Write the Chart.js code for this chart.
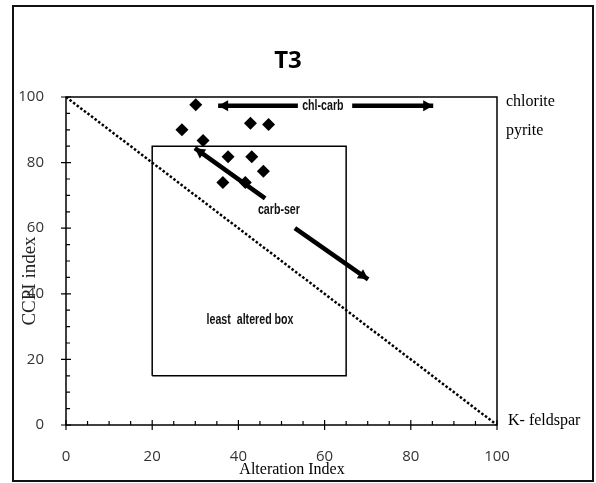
<!DOCTYPE html>
<html>
<head>
<meta charset="utf-8">
<script src="https://cdn.jsdelivr.net/npm/chart.js@4/dist/chart.umd.min.js"></script>
<style>
  html, body { margin: 0; padding: 0; background: #fff; }
  #chart { display: block; }
</style>
</head>
<body>
<canvas id="chart" width="596" height="483"></canvas>
<script>
// sample points (Alteration Index vs CCPI)
const altIndex = [30.1, 26.9, 31.8, 42.8, 47.0, 37.6, 43.1, 45.8, 36.4, 41.6];
const ccpi     = [97.6, 90.0, 86.7, 92.0, 91.6, 81.8, 81.8, 77.4, 73.9, 73.9];

// least altered box and the diagonal reference line
const boxX = [20, 20, 65, 65, 20];
const boxY = [15, 85, 85, 15, 15];
const diagX = [0, 100];
const diagY = [100, 0];

// trend arrows
const chlCarbLeftX  = [35.3, 53.8];
const chlCarbLeftY  = [97.3, 97.3];
const chlCarbRightX = [66.4, 85.2];
const chlCarbRightY = [97.3, 97.3];
const carbSerAX = [29.9, 46.2];
const carbSerAY = [84.4, 69.1];
const carbSerBX = [53.1, 70.1];
const carbSerBY = [60.0, 44.4];

// ticks
const majorTicks = [0, 20, 40, 60, 80, 100];
const minorTicks = [5, 10, 15, 25, 30, 35, 45, 50, 55, 65, 70, 75, 85, 90, 95];

const pts = (xs, ys) => xs.map((x, i) => ({ x: x, y: ys[i] }));

function lineSet(xs, ys, width, dash) {
  return {
    type: 'line',
    data: pts(xs, ys),
    borderColor: '#000',
    borderWidth: width,
    borderDash: dash || [],
    borderCapStyle: 'butt',
    pointRadius: 0,
    fill: false,
    tension: 0
  };
}

const serif = '"Liberation Serif", "Times New Roman", serif';

// condensed label text (squeezed sans)
function narrowText(ctx, txt, x, y) {
  ctx.save();
  ctx.translate(x, y);
  ctx.scale(0.76, 1);
  ctx.font = 'bold 14px "Liberation Sans", Arial, sans-serif';
  ctx.fillStyle = '#111';
  ctx.textAlign = 'center';
  ctx.textBaseline = 'middle';
  ctx.fillText(txt, 0, 0);
  ctx.restore();
}

const decor = {
  id: 'decor',
  afterDatasetsDraw(chart) {
    const ctx = chart.ctx;
    const xs = chart.scales.x, ys = chart.scales.y;
    const a = chart.chartArea;
    const px = v => xs.getPixelForValue(v);
    const py = v => ys.getPixelForValue(v);
    ctx.save();

    // figure frame
    ctx.strokeStyle = '#111';
    ctx.lineWidth = 2;
    ctx.strokeRect(13, 6, 580, 475);

    // plot box
    ctx.lineWidth = 1.5;
    ctx.strokeStyle = '#000';
    ctx.strokeRect(a.left, a.top, a.right - a.left, a.bottom - a.top);

    // ticks
    ctx.lineWidth = 1.2;
    ctx.beginPath();
    majorTicks.forEach(v => {
      ctx.moveTo(px(v), a.bottom - 5); ctx.lineTo(px(v), a.bottom + 5);
      ctx.moveTo(a.left - 5, py(v)); ctx.lineTo(a.left + 5, py(v));
    });
    minorTicks.forEach(v => {
      ctx.moveTo(px(v), a.bottom); ctx.lineTo(px(v), a.bottom - 4);
      ctx.moveTo(a.left, py(v)); ctx.lineTo(a.left + 4, py(v));
    });
    ctx.stroke();

    // arrow heads
    function head(x0, y0, x1, y1) {
      const X0 = px(x0), Y0 = py(y0), X1 = px(x1), Y1 = py(y1);
      const ang = Math.atan2(Y1 - Y0, X1 - X0);
      const L = 10, W = 5.5;
      ctx.beginPath();
      ctx.moveTo(X1, Y1);
      ctx.lineTo(X1 - L * Math.cos(ang) + W * Math.sin(ang), Y1 - L * Math.sin(ang) - W * Math.cos(ang));
      ctx.lineTo(X1 - L * Math.cos(ang) - W * Math.sin(ang), Y1 - L * Math.sin(ang) + W * Math.cos(ang));
      ctx.closePath();
      ctx.fillStyle = '#000';
      ctx.fill();
    }
    head(chlCarbLeftX[1], chlCarbLeftY[1], chlCarbLeftX[0], chlCarbLeftY[0]);
    head(chlCarbRightX[0], chlCarbRightY[0], chlCarbRightX[1], chlCarbRightY[1]);
    head(carbSerAX[1], carbSerAY[1], carbSerAX[0], carbSerAY[0]);
    head(carbSerBX[0], carbSerBY[0], carbSerBX[1], carbSerBY[1]);

    // texts
    ctx.fillStyle = '#000';
    ctx.textAlign = 'center';
    ctx.textBaseline = 'middle';
    ctx.font = 'bold 24px "Open Sans", sans-serif';
    ctx.fillText('T3', 288, 61);

    narrowText(ctx, 'chl-carb', px(59.6), py(97.3));
    narrowText(ctx, 'carb-ser', px(49.4), py(65.5));
    narrowText(ctx, 'least  altered box', px(42.7), py(32.0));

    ctx.fillStyle = '#000';
    ctx.font = '16px ' + serif;
    ctx.fillText('Alteration Index', 292, 470);
    ctx.textAlign = 'left';
    ctx.fillText('chlorite', 506, 102);
    ctx.fillText('pyrite', 506, 131);
    ctx.fillText('K- feldspar', 508, 421);

    ctx.translate(30, 281);
    ctx.rotate(-Math.PI / 2);
    ctx.textAlign = 'center';
    ctx.font = '19px ' + serif;
    ctx.fillStyle = '#222';
    ctx.fillText('CCPI index', 0, 0);
    ctx.restore();
  }
};

new Chart(document.getElementById('chart').getContext('2d'), {
  type: 'scatter',
  data: {
    datasets: [
      {
        data: pts(altIndex, ccpi),
        pointStyle: 'rectRot',
        pointRadius: 6.5,
        backgroundColor: '#000',
        borderColor: '#000',
        borderWidth: 0
      },
      lineSet(diagX, diagY, 2.5, [2.5, 2]),
      lineSet(boxX, boxY, 1.5),
      lineSet(chlCarbLeftX, chlCarbLeftY, 4.5),
      lineSet(chlCarbRightX, chlCarbRightY, 4.5),
      lineSet(carbSerAX, carbSerAY, 4.5),
      lineSet(carbSerBX, carbSerBY, 4.5)
    ]
  },
  options: {
    responsive: false,
    devicePixelRatio: 1,
    animation: false,
    layout: { padding: { top: 97, right: 99, left: 0, bottom: 0 } },
    plugins: { legend: { display: false }, tooltip: { enabled: false } },
    scales: {
      x: {
        type: 'linear', min: 0, max: 100,
        afterFit: s => { s.height = 58; },
        grid: { display: false },
        border: { display: false },
        ticks: { stepSize: 20, padding: 15, color: '#333', font: { family: '"Open Sans", sans-serif', size: 15 } }
      },
      y: {
        type: 'linear', min: 0, max: 100,
        afterFit: s => { s.width = 66; },
        grid: { display: false },
        border: { display: false },
        ticks: { stepSize: 20, padding: 14, color: '#333', font: { family: '"Open Sans", sans-serif', size: 15 } }
      }
    }
  },
  plugins: [decor]
});
</script>
</body>
</html>
